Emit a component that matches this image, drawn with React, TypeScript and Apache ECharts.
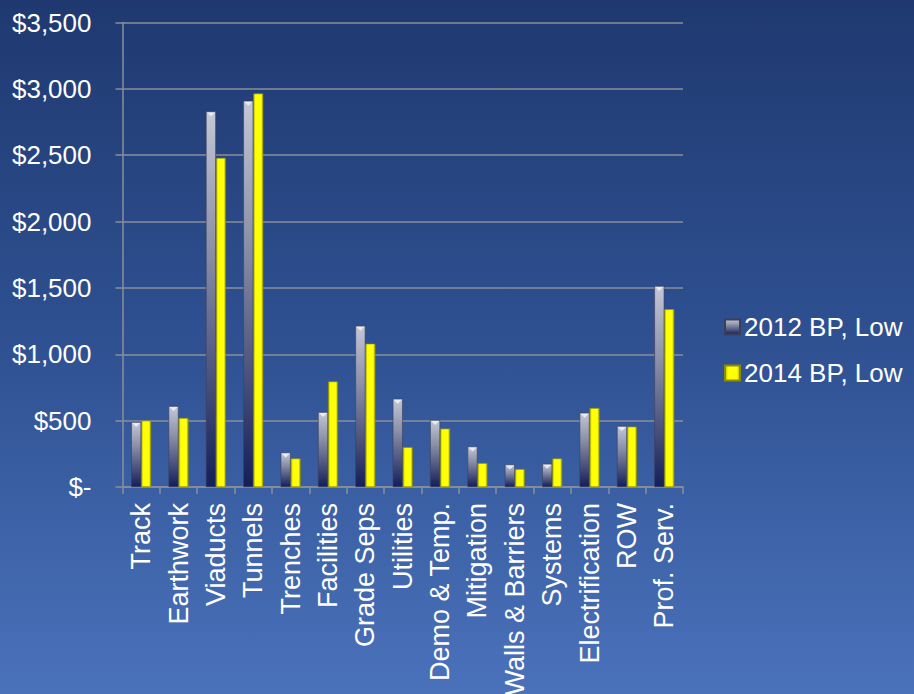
import React, { useEffect, useRef } from "react";
import * as echarts from "echarts";

const categories = [
  "Track", "Earthwork", "Viaducts", "Tunnels", "Trenches", "Facilities", "Grade Seps",
  "Utilities", "Demo & Temp.", "Mitigation", "Walls & Barriers", "Systems",
  "Electrification", "ROW", "Prof. Serv.",
];
const bp2012Low = [490, 610, 2830, 2910, 260, 565, 1215, 665, 505, 305, 170, 175, 560, 460, 1515];
const bp2014Low = [500, 520, 2480, 2965, 215, 795, 1080, 300, 440, 180, 135, 215, 595, 455, 1340];
const seriesNames = ["2012 BP, Low", "2014 BP, Low"];

const FONT = "'Liberation Sans', Arial, Helvetica, sans-serif";

export default function App() {
  const ref = useRef<HTMLDivElement>(null);
  useEffect(() => {
    if (!ref.current) return;
    const chart = echarts.init(ref.current, undefined, { renderer: "svg" });
    const grayColor = new echarts.graphic.LinearGradient(0, 0, 0, 1, [
      { offset: 0, color: "#c4c7d6" },
      { offset: 0.35, color: "#8e92aa" },
      { offset: 1, color: "#141e58" },
    ]);
    const yellowColor = new echarts.graphic.LinearGradient(0, 0, 1, 0, [
      { offset: 0, color: "#b4b400" },
      { offset: 0.2, color: "#ffff00" },
      { offset: 0.8, color: "#ffff10" },
      { offset: 1, color: "#a8a800" },
    ]);
    chart.setOption({
      animation: false,
      backgroundColor: "transparent",
      textStyle: { fontFamily: FONT },
      grid: {
        left: 122.5,
        right: 231,
        top: 22.5,
        bottom: 207,
        containLabel: false,
        outerBoundsMode: "none",
      },
      legend: {
        orient: "vertical",
        left: 719,
        top: 309,
        itemWidth: 15,
        itemHeight: 15,
        itemGap: 20,
        icon: "rect",
        textStyle: { color: "#ffffff", fontSize: 26, fontFamily: FONT, padding: [0, 0, 0, -1] },
        data: seriesNames,
      },
      xAxis: {
        type: "category",
        data: categories,
        axisLine: { show: true, lineStyle: { color: "#8a8f9a", width: 1.5 } },
        axisTick: { show: true, length: 7, lineStyle: { color: "#8a8f9a", width: 1.5 } },
        axisLabel: {
          rotate: 90,
          interval: 0,
          margin: 16,
          color: "#ffffff",
          fontSize: 27,
          fontFamily: FONT,
        },
      },
      yAxis: {
        type: "value",
        min: 0,
        max: 3500,
        interval: 500,
        axisLine: { show: true, lineStyle: { color: "#8a8f9a", width: 1.5 } },
        axisTick: { show: true, length: 7, lineStyle: { color: "#8a8f9a", width: 1.5 } },
        splitLine: { show: true, lineStyle: { color: "#8a8f9a", width: 1.5 } },
        axisLabel: {
          margin: 31,
          color: "#ffffff",
          fontSize: 26,
          fontFamily: FONT,
          formatter: (v: number) => (v === 0 ? "$-" : "$" + v.toLocaleString("en-US")),
        },
      },
      series: [
        {
          name: seriesNames[0],
          type: "bar",
          data: bp2012Low,
          barWidth: 10,
          barGap: "0%",
          itemStyle: { color: grayColor, borderColor: "#3a3f5a", borderWidth: 0.6 },
        },
        {
          name: seriesNames[1],
          type: "bar",
          data: bp2014Low,
          barWidth: 10,
          barGap: "0%",
          itemStyle: { color: yellowColor, borderColor: "#8c8c00", borderWidth: 0.6 },
        },
        {
          name: "bevel",
          type: "scatter",
          data: bp2012Low,
          symbol: "triangle",
          symbolRotate: 180,
          symbolSize: [8, 4],
          symbolOffset: [-5, 3],
          itemStyle: { color: "#eef0f6", opacity: 0.9 },
          silent: true,
          z: 5,
        },
      ],
    });
    return () => chart.dispose();
  }, []);
  return (
    <div
      style={{
        position: "fixed",
        left: 0,
        top: 0,
        width: 914,
        height: 694,
        background: "linear-gradient(to bottom, #1f3970 0%, #2f5192 50%, #4a72bb 100%)",
      }}
    >
      <div ref={ref} style={{ width: 914, height: 694 }} />
    </div>
  );
}
